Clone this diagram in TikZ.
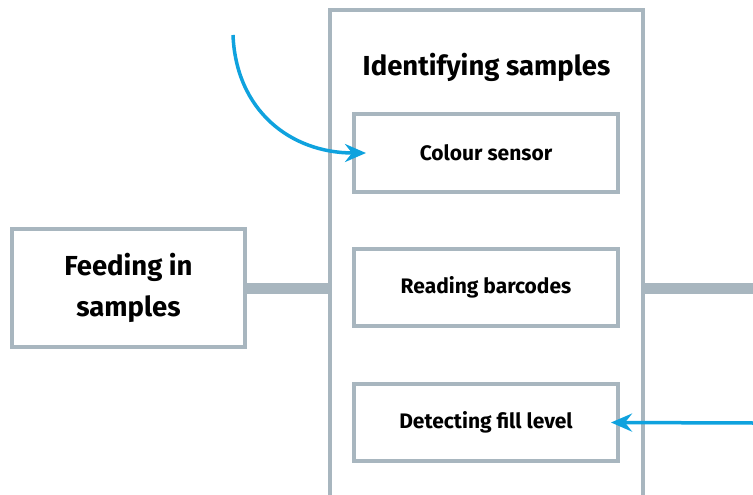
\documentclass[tikz,border=0pt]{standalone}
\usepackage{fontspec}
\setmainfont{Fira Sans}
\usetikzlibrary{arrows.meta}

\definecolor{boxgray}{HTML}{A8B6BF}
\definecolor{flowblue}{HTML}{0FA2DE}

\begin{document}
\begin{tikzpicture}[x=1pt,y=-1pt,
    main_box/.style={draw=boxgray,line width=4pt,fill=white,rectangle,inner sep=0pt,font=\bfseries\fontsize{21}{25}\selectfont,minimum width=264pt,minimum height=77pt},
    big_box/.style={draw=boxgray,line width=4pt,rectangle,inner sep=0pt,align=center,font=\bfseries\fontsize{27.5}{41}\selectfont},
    conn/.style={boxgray,line width=11pt},
    feed_arrow/.style={flowblue,line width=3.5pt,-{Stealth[length=21pt,width=18pt,inset=7pt]}}]

    \useasboundingbox (0,0) rectangle (753,495);

    \node[big_box,minimum width=313pt,minimum height=515pt] (ident) at (486.5,267.5) {};
    \node[font=\bfseries\fontsize{27.5}{32}\selectfont] (title) at (486.5,67) {Identifying samples};

    \node[main_box] (colour) at (486,153) {Colour sensor};
    \node[main_box] (barcode) at (486,287.5) {Reading barcodes};
    \node[main_box] (fill) at (486,422.5) {Detecting fill level};

    \node[big_box,minimum width=233pt,minimum height=118pt] (feed) at (128.5,288) {Feeding in\\samples};

    \coordinate (out) at (753,288);
    \coordinate (src_top) at (233,35);
    \coordinate (src_right) at (753,423);

    \draw[conn] (feed.east |- 0,288) -- (ident.west |- 0,288);
    \draw[conn] (ident.east |- out) -- (out);

    \draw[feed_arrow] (src_top) .. controls (236,110) and (290,153) .. ([xshift=14pt]colour.west);
    \draw[feed_arrow] (src_right) -- ([xshift=-9pt]fill.east);

\end{tikzpicture}
\end{document}
